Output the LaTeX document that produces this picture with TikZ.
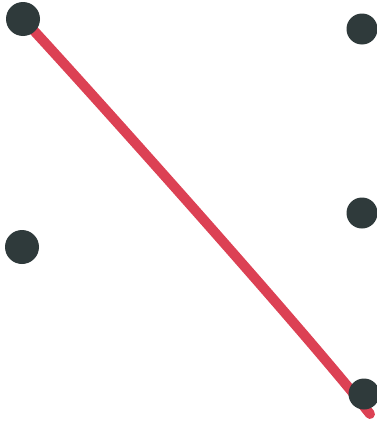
\documentclass[tikz,border=0pt]{standalone}
\definecolor{dotc}{HTML}{2F3A3B}
\definecolor{linec}{HTML}{DC4154}
\begin{document}
\begin{tikzpicture}[x=1pt,y=-1pt,
  dotbig/.style={circle,fill=dotc,inner sep=0pt,minimum size=34pt},
  dotsmall/.style={circle,fill=dotc,inner sep=0pt,minimum size=31pt},
  stroke/.style={draw=linec,line width=10pt,line cap=round}]
\useasboundingbox[fill=white] (0,0) rectangle (377,423);
\coordinate (start) at (23,19);
\coordinate (tail) at (370,414);
\draw[stroke] (start) .. controls (60,58) and (300,325) .. (tail);
\node[dotbig] (a) at (start) {};
\node[dotsmall] (b) at (362,29) {};
\node[dotbig] (c) at (22,247) {};
\node[dotsmall] (d) at (362,213) {};
\node[dotsmall] (e) at (364,394) {};
\end{tikzpicture}
\end{document}
